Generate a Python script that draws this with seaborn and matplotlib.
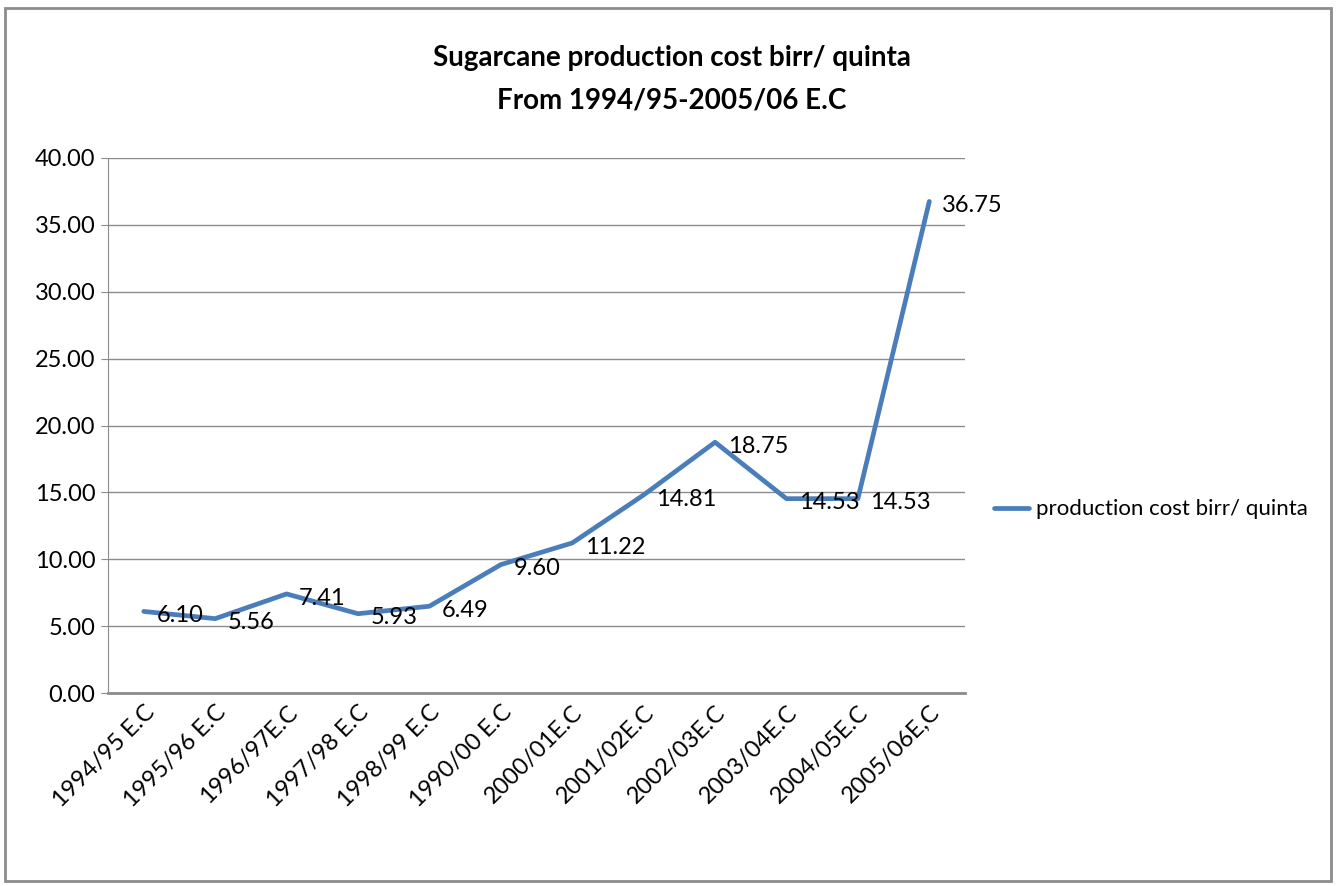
import pandas as pd
import matplotlib.pyplot as plt
import seaborn as sns
from matplotlib.patches import Rectangle

# datos del grafico
years = ["1994/95 E.C", "1995/96 E.C", "1996/97E.C", "1997/98 E.C", "1998/99 E.C",
         "1990/00 E.C", "2000/01E.C", "2001/02E.C", "2002/03E.C", "2003/04E.C",
         "2004/05E.C", "2005/06E,C"]
cost = [6.10, 5.56, 7.41, 5.93, 6.49, 9.60, 11.22, 14.81, 18.75, 14.53, 14.53, 36.75]
series_name = "production cost birr/ quinta"

df = pd.DataFrame({"year": years, "cost": cost})

sns.set_style("white")
plt.rcParams["font.family"] = ["Lato", "DejaVu Sans"]
plt.rcParams["text.color"] = "black"
plt.rcParams["xtick.color"] = "black"
plt.rcParams["ytick.color"] = "black"

fig = plt.figure(figsize=(13.39, 8.86), dpi=100)
ax = fig.add_axes([0.0807, 0.2178, 0.6400, 0.6039])

sns.lineplot(data=df, x="year", y="cost", sort=False, color="#4A7EBB",
             linewidth=3.4, ax=ax, label=series_name, legend=False)

for i, v in enumerate(cost):
    ax.annotate(f"{v:.2f}", (i, v), xytext=(9, -3), textcoords="offset points",
                ha="left", va="center", fontsize=17, color="black")

ax.set_xlim(-0.5, len(years) - 0.5)
ax.set_ylim(0, 40)
ax.set_yticks(range(0, 41, 5))
ax.set_yticklabels([f"{t:.2f}" for t in range(0, 41, 5)], fontsize=17)
ax.set_xticks(range(len(years)))
ax.set_xticklabels(years, rotation=45, ha="right", rotation_mode="anchor", fontsize=17)
ax.set_xlabel("")
ax.set_ylabel("")
ax.yaxis.grid(True, color="#8c8c8c", linewidth=1)
ax.set_axisbelow(True)
for s in ["top", "right"]:
    ax.spines[s].set_visible(False)
ax.spines["left"].set_color("#8c8c8c")
ax.spines["bottom"].set_color("#8c8c8c")
ax.spines["bottom"].set_linewidth(2)
ax.tick_params(axis="y", length=5, color="#8c8c8c", left=True, pad=4)
ax.tick_params(axis="x", length=0, pad=6)

fig.text(0.502, 0.935, "Sugarcane production cost birr/ quinta", ha="center",
         va="center", fontsize=20, fontweight="bold")
fig.text(0.502, 0.887, "From 1994/95-2005/06 E.C", ha="center",
         va="center", fontsize=20, fontweight="bold")

h, l = ax.get_legend_handles_labels()
fig.legend(h, l, loc="center left", bbox_to_anchor=(0.742, 0.425), frameon=False,
           fontsize=16, handlelength=1.6, handletextpad=0.3,
           borderpad=0, borderaxespad=0)

fig.patches.append(Rectangle((0.004, 0.006), 0.99, 0.985, transform=fig.transFigure,
                             fill=False, edgecolor="#8c8c8c", linewidth=2))

plt.savefig("out.png", dpi=100)
